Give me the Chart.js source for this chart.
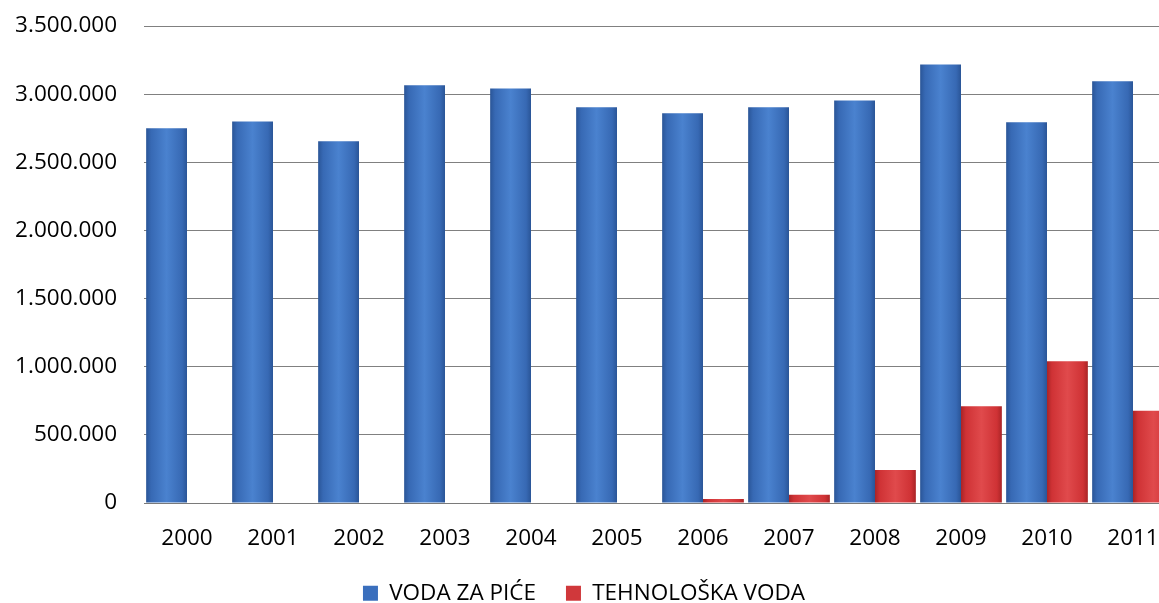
<!DOCTYPE html>
<html>
<head>
<meta charset="utf-8">
<script src="https://cdn.jsdelivr.net/npm/chart.js@4/dist/chart.umd.min.js"></script>
<style>
  html, body { margin: 0; padding: 0; background: #fff; overflow: hidden; }
  #wrap { width: 1190px; height: 603px; }
</style>
</head>
<body>
<div id="wrap"><canvas id="c" width="1190" height="603"></canvas></div>
<script>
const years = ['2000','2001','2002','2003','2004','2005','2006','2007','2008','2009','2010','2011'];
const vodaZaPice = [2750000, 2800000, 2655000, 3065000, 3042000, 2903000, 2860000, 2903000, 2954000, 3218000, 2793000, 3094000];
const tehnoloskaVoda = [0, 0, 0, 0, 0, 0, 30000, 60000, 242000, 709000, 1041000, 677000];
const seriesNames = ['VODA ZA PIĆE', 'TEHNOLOŠKA VODA'];
const yMax = 3500000;
const yStep = 500000;

const FONT = { family: '"Open Sans", "Liberation Sans", sans-serif', size: 22.5 };

function fmt(v) {
  return String(v).replace(/\B(?=(\d{3})+(?!\d))/g, '.');
}

function barGradient(dark, mid, light) {
  return function (ctx) {
    const chart = ctx.chart;
    const xs = chart.scales && chart.scales.x;
    if (!xs || !chart.chartArea || ctx.type !== 'data') return mid;
    const cat = xs.getPixelForValue(ctx.dataIndex);
    const catW = (xs.right - xs.left) / years.length;
    const w = catW * 0.95 / 2;
    const cx = cat + (ctx.datasetIndex === 0 ? -w / 2 : w / 2);
    const g = chart.ctx.createLinearGradient(cx - w / 2, 0, cx + w / 2, 0);
    g.addColorStop(0, dark);
    g.addColorStop(0.12, mid);
    g.addColorStop(0.5, light);
    g.addColorStop(0.88, mid);
    g.addColorStop(1, dark);
    return g;
  };
}

// Legend placement: compact height in layout, then centred where the original sits.
const legendPlace = {
  id: 'legendPlace',
  beforeLayout(chart) {
    const lg = chart.legend;
    if (lg && !lg.__wrapped) {
      const fit = lg.fit;
      lg.fit = function () { fit.call(this); this.height = 50; };
      lg.__wrapped = true;
    }
  },
  afterLayout(chart) {
    const lg = chart.legend;
    if (!lg) return;
    const dx = 584 - (lg.left + lg.right) / 2;
    lg.left += dx;
    lg.right += dx;
    const dy = 552 - lg.top;
    lg.top += dy;
    lg.bottom += dy;
  }
};

new Chart(document.getElementById('c'), {
  type: 'bar',
  data: {
    labels: years,
    datasets: [
      {
        label: seriesNames[0],
        data: vodaZaPice,
        backgroundColor: barGradient('#2a5597', '#3769b4', '#4a82cf'),
        borderWidth: 0,
        categoryPercentage: 0.95,
        barPercentage: 1.0
      },
      {
        label: seriesNames[1],
        data: tehnoloskaVoda,
        backgroundColor: barGradient('#a92426', '#cf3235', '#e04a4c'),
        borderWidth: 0,
        categoryPercentage: 0.95,
        barPercentage: 1.0
      }
    ]
  },
  options: {
    responsive: false,
    animation: false,
    layout: { padding: { top: 26, right: 14, left: 0, bottom: 0 } },
    plugins: {
      tooltip: { enabled: false },
      legend: {
        position: 'bottom',
        labels: {
          font: FONT,
          color: '#000',
          boxWidth: 15,
          boxHeight: 15,
          padding: 30,
          generateLabels(chart) {
            const cols = ['#3a6fbd', '#d0383b'];
            return chart.data.datasets.map((ds, i) => ({
              text: ds.label,
              fillStyle: cols[i],
              strokeStyle: cols[i],
              lineWidth: 0,
              datasetIndex: i,
              hidden: false
            }));
          }
        }
      }
    },
    scales: {
      x: {
        grid: { display: false, drawTicks: false },
        border: { display: true, color: '#7a7a7a', width: 1 },
        ticks: { font: FONT, color: '#000', padding: 22, maxRotation: 0, autoSkip: false },
        afterFit(s) { s.height = 50; }
      },
      y: {
        min: 0,
        max: yMax,
        grid: { color: '#808080', lineWidth: 1, drawTicks: false },
        border: { display: false },
        ticks: { stepSize: yStep, font: FONT, color: '#000', padding: 27, callback: (v) => fmt(v) },
        afterFit(s) { s.width = 144; s.paddingTop = 0; s.paddingBottom = 0; }
      }
    }
  },
  plugins: [legendPlace]
});
</script>
</body>
</html>
